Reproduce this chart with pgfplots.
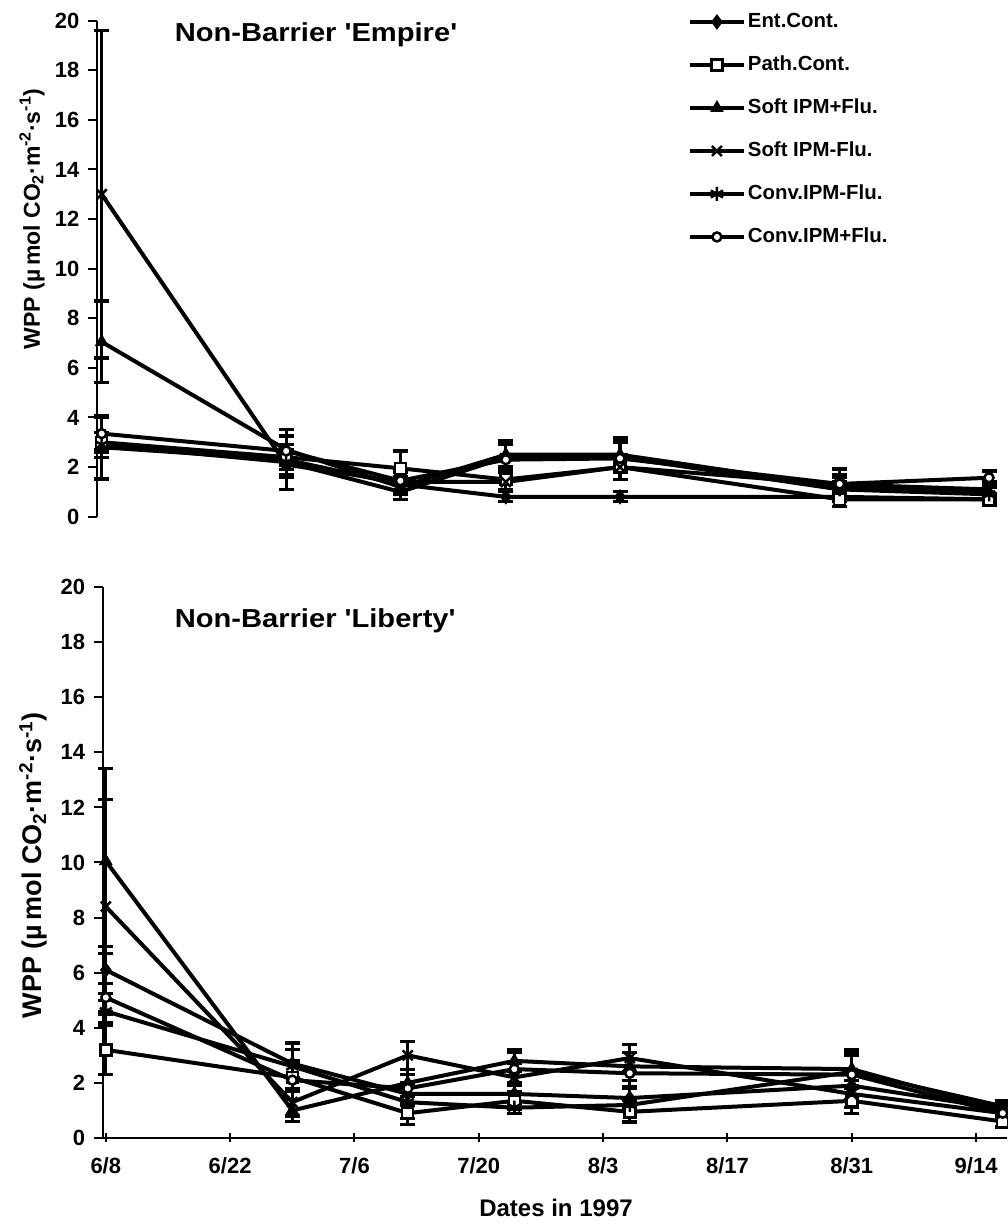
\documentclass[border=0pt]{standalone}
\usepackage{pgfplots}
\pgfplotsset{compat=1.18}
\usepackage{pgfplotstable}
\usepackage{graphicx}
\usepackage{fontspec}
\setmainfont{Liberation Sans}

% WPP means and error bars, x = days after 8 June 1997
% E = Ent.Cont., P = Path.Cont., SP = Soft IPM+Flu., SM = Soft IPM-Flu.,
% CM = Conv.IPM-Flu., CP = Conv.IPM+Flu.; columns ending in e hold the error bars
\pgfplotstableread{
day  E    Ee   P    Pe   SP   SPe  SM   SMe  CM   CMe  CP   CPe
0    2.80 1.28 3.00 0.40 7.05 1.65 13.0 6.60 2.90 0.50 3.35 0.65
21   2.30 1.20 2.40 0.50 2.70 0.80 2.10 0.50 2.20 0.50 2.65 0.60
34   1.30 0.30 1.95 0.70 1.20 0.30 1.40 0.40 1.00 0.30 1.45 0.50
46   0.80 0.20 1.50 0.40 2.50 0.50 1.40 0.40 2.40 0.50 2.30 0.75
59   0.80 0.20 2.00 0.50 2.50 0.60 2.00 0.50 2.40 0.60 2.35 0.85
84   0.80 0.20 0.70 0.30 1.20 0.40 1.30 0.40 1.10 0.30 1.32 0.60
101  0.70 0.15 0.70 0.25 1.00 0.30 1.10 0.30 0.90 0.30 1.57 0.27
}\empire
\pgfplotstableread{
day  E    Ee   P    Pe   SP    SPe  SM   SMe  CM   CMe  CP   CPe
0    6.10 0.85 3.20 0.90 10.05 3.35 8.40 3.90 4.60 0.40 5.10 0.50
21   2.70 0.50 2.20 0.50 1.00  0.40 1.30 0.50 2.60 0.85 2.10 0.70
34   1.60 0.40 0.90 0.40 2.00  0.50 3.00 0.50 1.30 0.60 1.80 0.50
46   1.60 0.40 1.35 0.30 2.80  0.40 2.20 0.50 1.10 0.20 2.50 0.60
59   1.45 0.40 0.95 0.40 2.60  0.50 2.90 0.50 1.20 0.60 2.35 0.55
84   1.90 0.50 1.35 0.45 2.50  0.60 1.60 0.50 2.40 0.60 2.30 0.90
101  1.05 0.20 0.60 0.20 1.00  0.20 0.90 0.20 1.15 0.20 0.90 0.20
}\liberty

\pgfplotsset{
  wpp/.style={
    scale only axis, clip=false,
    ymin=0, ymax=20, ytick={0,2,...,20},
    axis y line=left,
    axis line style={-, line width=2pt, black},
    every outer x axis line/.append style={-},
    every outer y axis line/.append style={-},
    tick align=outside, major tick length=9pt,
    tick style={line width=2pt, black},
    /pgf/number format/assume math mode=true,
    ticklabel style={font=\bfseries\fontsize{22}{22}\selectfont},
    yticklabel style={xshift=-5pt},
    every axis plot/.append style={line width=4pt, black},
    error bars/y dir=both, error bars/y explicit,
    error bars/error bar style={line width=3.2pt, solid, black},
    error bars/error mark options={rotate=90, mark size=7.5pt, line width=3.2pt, black},
  },
  sE/.style={mark=diamond*, mark size=7pt, mark options={solid, fill=black, line width=1pt}},
  sP/.style={mark=square*, mark size=5.5pt, mark options={solid, fill=white, line width=2.5pt}},
  sSP/.style={mark=triangle*, mark size=7pt, mark options={solid, fill=black, line width=1pt}},
  sSM/.style={mark=x, mark size=7pt, mark options={solid, line width=2.5pt}},
  sCM/.style={mark=asterisk, mark size=7pt, mark options={solid, line width=2.5pt}},
  sCP/.style={mark=*, mark size=4.5pt, mark options={solid, fill=white, line width=2.5pt}},
}

\begin{document}
\begin{tikzpicture}
\useasboundingbox (0,0) rectangle (1008pt,1227pt);

% ---- Non-Barrier 'Empire' ----
\begin{axis}[wpp,
  at={(97pt,710.3pt)}, anchor=south west,
  width=896.4pt, height=496pt,
  xmin=-0.535, xmax=101.5,
  axis x line=none,
  ylabel={WPP (\textmu\,mol CO\textsubscript{2}\textperiodcentered m\textsuperscript{-2}\textperiodcentered s\textsuperscript{-1})},
  ylabel style={at={(axis description cs:-0.0725,0.60)}, anchor=center,
    font=\bfseries\fontsize{23}{23}\selectfont},
  legend style={at={(axis description cs:0.659,1.019)}, anchor=north west,
    draw=none, fill=none, inner sep=0pt, row sep=22pt, column sep=1pt,
    font=\bfseries\fontsize{20.4}{20.4}\selectfont,
    nodes={inner sep=1pt, text height=15pt, text depth=4pt}},
  legend cell align=left,
  legend image code/.code={\draw[mark repeat=2, mark phase=2, #1]
    plot coordinates {(0pt,0pt) (27pt,0pt) (54pt,0pt)};},
]
\addplot[sE]  table[x=day, y=E,  y error=Ee]  {\empire};
\addplot[sP]  table[x=day, y=P,  y error=Pe]  {\empire};
\addplot[sSP] table[x=day, y=SP, y error=SPe] {\empire};
\addplot[sSM] table[x=day, y=SM, y error=SMe] {\empire};
\addplot[sCM] table[x=day, y=CM, y error=CMe] {\empire};
\addplot[sCP] table[x=day, y=CP, y error=CPe] {\empire};
\legend{Ent.Cont., Path.Cont., Soft IPM+Flu., Soft IPM-Flu., Conv.IPM-Flu., Conv.IPM+Flu.}
\node[font=\bfseries\fontsize{26}{26}\selectfont] at (axis description cs:0.2443,0.971)
  {\scalebox{1.12}[1]{Non-Barrier \textquotesingle Empire\textquotesingle}};
\end{axis}

% ---- Non-Barrier 'Liberty' ----
\begin{axis}[wpp,
  at={(102.7pt,89pt)}, anchor=south west,
  width=904.3pt, height=551pt,
  xmin=-0.35, xmax=101.48,
  axis x line=bottom,
  every outer x axis line/.append style={-},
  x axis line style={-},
  xtick={0,14,...,98},
  xticklabels={6/8,6/22,7/6,7/20,8/3,8/17,8/31,9/14},
  xticklabel style={yshift=-12pt},
  xlabel={Dates in 1997},
  xlabel style={at={(axis description cs:0.5013,-0.127)}, anchor=center,
    font=\bfseries\fontsize{24}{24}\selectfont},
  ylabel={WPP (\textmu\,mol CO\textsubscript{2}\textperiodcentered m\textsuperscript{-2}\textperiodcentered s\textsuperscript{-1})},
  ylabel style={at={(axis description cs:-0.077,0.495)}, anchor=center,
    font=\bfseries\fontsize{27}{27}\selectfont},
]
\addplot[sE]  table[x=day, y=E,  y error=Ee]  {\liberty};
\addplot[sP]  table[x=day, y=P,  y error=Pe]  {\liberty};
\addplot[sSP] table[x=day, y=SP, y error=SPe] {\liberty};
\addplot[sSM] table[x=day, y=SM, y error=SMe] {\liberty};
\addplot[sCM] table[x=day, y=CM, y error=CMe] {\liberty};
\addplot[sCP] table[x=day, y=CP, y error=CPe] {\liberty};
\node[font=\bfseries\fontsize{26}{26}\selectfont] at (axis description cs:0.235,0.938)
  {\scalebox{1.12}[1]{Non-Barrier \textquotesingle Liberty\textquotesingle}};
\end{axis}
\end{tikzpicture}
\end{document}
